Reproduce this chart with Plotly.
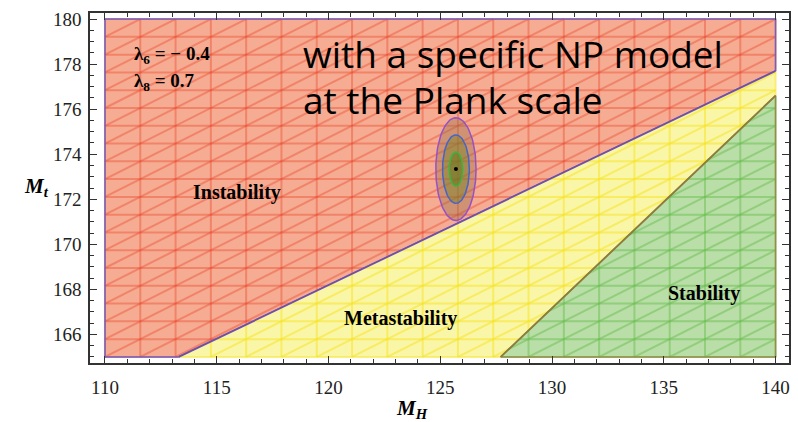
import numpy as np
import plotly.graph_objects as go

# ---------------- data ----------------
mh_range = [110.0, 140.0]
mt_range = [165.0, 180.0]
# instability / metastability boundary (two end points)
inst_bound_mh = [113.3, 140.0]
inst_bound_mt = [165.0, 177.7]
# metastability / stability boundary
stab_bound_mh = [127.7, 140.0]
stab_bound_mt = [165.0, 176.6]
# experimental point and 1 sigma errors
mh_central = 125.7
mt_central = 173.34
mh_sigma = 0.3
mt_sigma = 0.76
sigma_levels = [3, 2, 1]
mesh_n = 19
x_tick_vals = [110, 115, 120, 125, 130, 135, 140]
y_tick_vals = [166, 168, 170, 172, 174, 176, 178, 180]

# ---------------- regions ----------------
x0, x1 = mh_range
y0, y1 = mt_range
inst_poly = [(x0, y0), (inst_bound_mh[0], inst_bound_mt[0]), (inst_bound_mh[1], inst_bound_mt[1]),
             (x1, y1), (x0, y1)]
meta_poly = [(inst_bound_mh[0], inst_bound_mt[0]), (stab_bound_mh[0], stab_bound_mt[0]),
             (stab_bound_mh[1], stab_bound_mt[1]), (inst_bound_mh[1], inst_bound_mt[1])]
stab_poly = [(stab_bound_mh[0], stab_bound_mt[0]), (x1, y0), (stab_bound_mh[1], stab_bound_mt[1])]


def clip(p0, p1, poly):
    p0 = np.array(p0, float); p1 = np.array(p1, float)
    d = p1 - p0
    t0, t1 = 0.0, 1.0
    n = len(poly)
    for i in range(n):
        a = np.array(poly[i], float); b = np.array(poly[(i + 1) % n], float)
        e = b - a
        nrm = np.array([-e[1], e[0]])
        num = nrm @ (p0 - a)
        den = nrm @ d
        if abs(den) < 1e-12:
            if num < 0:
                return None
        else:
            t = -num / den
            if den > 0:
                t0 = max(t0, t)
            else:
                t1 = min(t1, t)
    if t1 - t0 > 1e-9:
        return p0 + t0 * d, p0 + t1 * d
    return None


dx = (x1 - x0) / mesh_n
dy = (y1 - y0) / mesh_n
segs = []
for j in range(mesh_n + 1):
    segs.append(((x0, y0 + j * dy), (x1, y0 + j * dy)))
    segs.append(((x0 + j * dx, y0), (x0 + j * dx, y1)))
for k in range(-mesh_n + 1, mesh_n):
    ua, va = max(k, 0), max(-k, 0)
    ub, vb = min(mesh_n, mesh_n + k), min(mesh_n, mesh_n - k)
    segs.append(((x0 + ua * dx, y0 + va * dy), (x0 + ub * dx, y0 + vb * dy)))


def mesh_xy(poly):
    xs, ys = [], []
    for a, b in segs:
        r = clip(a, b, poly)
        if r is not None:
            xs += [r[0][0], r[1][0], None]
            ys += [r[0][1], r[1][1], None]
    return xs, ys


fig = go.Figure()

regions = [
    (inst_poly, "rgb(245,172,146)", "rgba(236,70,45,0.40)", "rgb(115,95,190)"),
    (meta_poly, "rgb(250,246,168)", "rgba(245,228,40,0.55)", "rgba(0,0,0,0)"),
    (stab_poly, "rgb(186,222,168)", "rgba(105,190,80,0.50)", "rgb(150,140,70)"),
]
for poly, fillc, meshc, edgec in regions:
    px = [p[0] for p in poly] + [poly[0][0]]
    py = [p[1] for p in poly] + [poly[0][1]]
    fig.add_trace(go.Scatter(x=px, y=py, fill="toself", fillcolor=fillc, mode="lines",
                             line=dict(color="rgba(0,0,0,0)", width=0), hoverinfo="skip"))
    mx, my = mesh_xy(poly)
    fig.add_trace(go.Scatter(x=mx, y=my, mode="lines", line=dict(color=meshc, width=2),
                             hoverinfo="skip"))
    if edgec != "rgba(0,0,0,0)":
        fig.add_trace(go.Scatter(x=px, y=py, mode="lines", line=dict(color=edgec, width=1.5),
                                 hoverinfo="skip"))

# boundary lines
fig.add_trace(go.Scatter(x=inst_bound_mh, y=inst_bound_mt, mode="lines",
                         line=dict(color="rgb(110,80,170)", width=1.8), hoverinfo="skip"))
fig.add_trace(go.Scatter(x=stab_bound_mh, y=stab_bound_mt, mode="lines",
                         line=dict(color="rgb(140,125,60)", width=1.8), hoverinfo="skip"))

# sigma ellipses
th = np.linspace(0, 2 * np.pi, 120)
ell_fill = {3: "rgba(150,110,70,0.40)", 2: "rgba(120,130,40,0.45)", 1: "rgba(100,120,30,0.50)"}
ell_line = {3: "rgb(150,80,200)", 2: "rgb(70,100,200)", 1: "rgb(60,180,60)"}
for s in sigma_levels:
    ex = mh_central + s * mh_sigma * np.cos(th)
    ey = mt_central + s * mt_sigma * np.sin(th)
    fig.add_trace(go.Scatter(x=ex, y=ey, mode="lines", fill="toself", fillcolor=ell_fill[s],
                             line=dict(color=ell_line[s], width=1.5), hoverinfo="skip"))
fig.add_trace(go.Scatter(x=[mh_central], y=[mt_central], mode="markers",
                         marker=dict(color="black", size=4), hoverinfo="skip"))

serif = "Liberation Serif"
axis_common = dict(showgrid=False, zeroline=False, showline=True, linecolor="#333",
                   linewidth=1.5, mirror="ticks", ticks="inside", ticklen=7, tickwidth=1,
                   tickcolor="#333", tickfont=dict(family=serif, size=19, color="#222"))
fig.update_xaxes(range=[109.33, 140.6], tickvals=x_tick_vals, ticklabelstandoff=6,
                 minor=dict(dtick=1, tick0=110, ticks="inside", ticklen=4, tickcolor="#333"),
                 **axis_common)
fig.update_yaxes(range=[164.73, 180.27], tickvals=y_tick_vals, ticklabelstandoff=3,
                 minor=dict(dtick=0.5, tick0=165, ticks="inside", ticklen=4, tickcolor="#333"),
                 **axis_common)

W, H = 798, 422
L, R, T, B = 90, 7, 13, 59
pw, ph = W - L - R, H - T - B


def px2paper(px, py):
    return (px - L) / pw, 1 - (py - T) / ph


def ann(text, px, py, size, family=serif, xanchor="center"):
    ax, ay = px2paper(px, py)
    fig.add_annotation(text=text, x=ax, y=ay, xref="paper", yref="paper", showarrow=False,
                       xanchor=xanchor, yanchor="middle",
                       font=dict(family=family, size=size, color="black"))


ann("<b>Instability</b>", 237, 193, 20)
ann("<b>Metastability</b>", 401, 318, 20)
ann("<b>Stability</b>", 706, 293, 20)
ann("<b>λ<sub>6</sub> = − 0.4</b>", 132, 55, 19, xanchor="left")
ann("<b>λ<sub>8</sub> = 0.7</b>", 132, 82, 19, xanchor="left")
ann("<b><i>M</i></b><sub><b><i>t</i></b></sub>", 36, 187, 21)
ann("<b><i>M</i></b><sub><b><i>H</i></b></sub>", 413, 409, 21)
ann("with a specific NP model", 302, 54, 37, family="Open Sans", xanchor="left")
ann("at the Plank scale", 302, 99, 37, family="Open Sans", xanchor="left")

fig.update_layout(width=W, height=H, margin=dict(l=L, r=R, t=T, b=B), showlegend=False,
                  plot_bgcolor="white", paper_bgcolor="white")

fig.write_html("out.html")
